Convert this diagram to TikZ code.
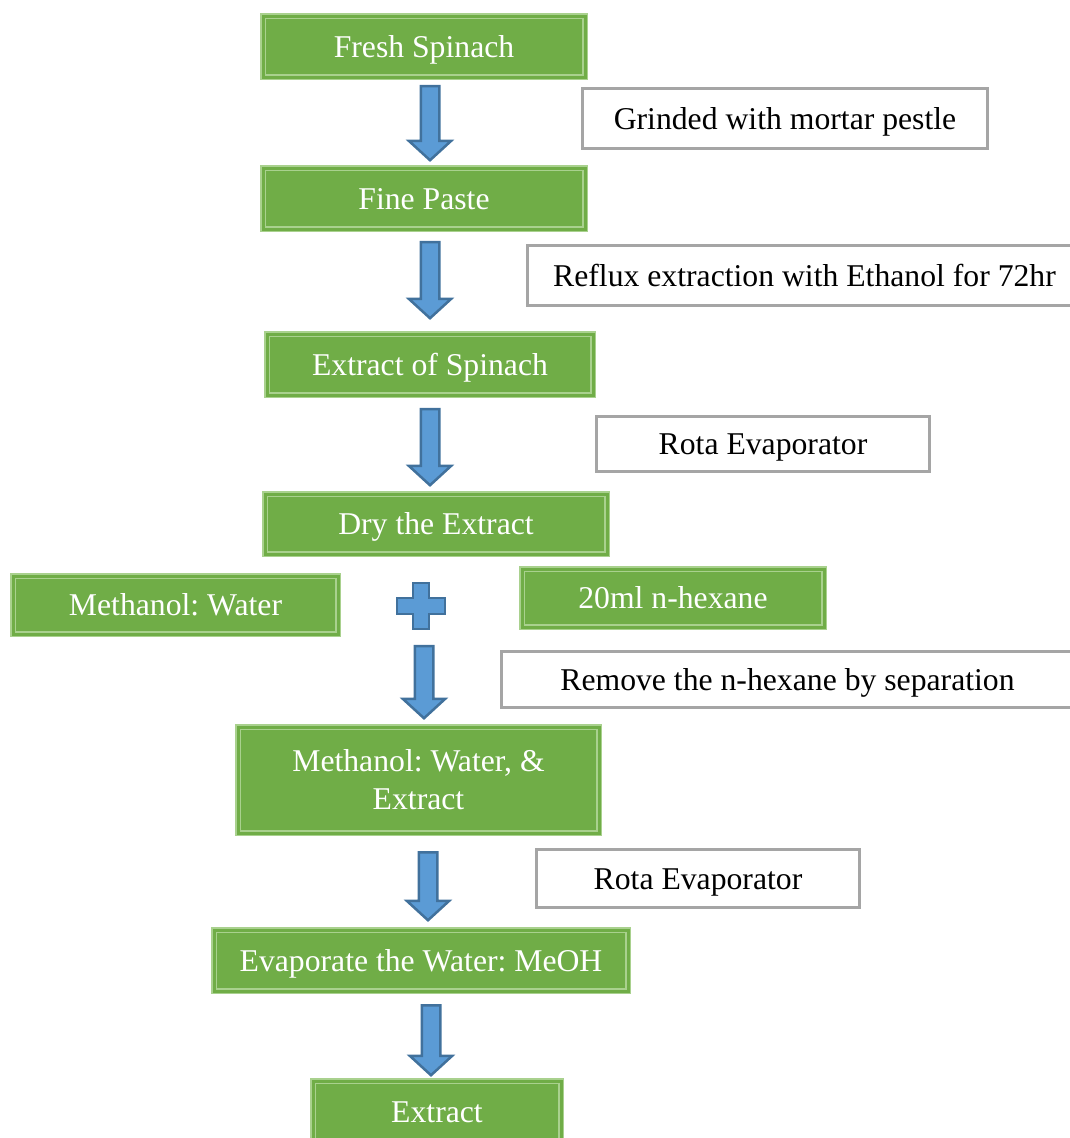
\documentclass[tikz,border=0pt]{standalone}
\usepackage{fontspec}
\setmainfont{Liberation Serif}
\usetikzlibrary{shapes.arrows, positioning}
\definecolor{leafgreen}{HTML}{70AD47}
\definecolor{palegreen}{HTML}{A9D18E}
\definecolor{flowblue}{HTML}{5B9BD5}
\definecolor{edgeblue}{HTML}{41719C}
\definecolor{framegray}{HTML}{A5A5A5}
\frenchspacing

\begin{document}
\begin{tikzpicture}[x=1pt, y=-1pt,
		stage/.style={draw=palegreen, line width=1.5pt, double=leafgreen, double distance=3pt,
			fill=leafgreen, text=white, inner sep=0pt, align=center,
			text height=22pt, text depth=1pt, font=\fontsize{31.7}{38}\selectfont},
		note/.style={draw=framegray, line width=3pt, fill=white, inner sep=0pt,
			text height=22pt, text depth=1pt, font=\fontsize{31.7}{38}\selectfont},
		flow/.style={single arrow, shape border rotate=270, draw=edgeblue, line width=2.5pt,
			fill=flowblue, inner sep=8pt, minimum width=41pt,
			single arrow head extend=12pt, single arrow tip angle=95}]
		\useasboundingbox (0,0) rectangle (1070,1138);
		
		% main line
		\node[stage, minimum width=322pt, minimum height=61pt] (fresh) at (424,46.5) {Fresh Spinach};
		\node[stage, minimum width=322pt, minimum height=61pt] (paste) at (424,198.5) {Fine Paste};
		\node[stage, minimum width=326pt, minimum height=61pt] (spin) at (430,364.5) {Extract of Spinach};
		\node[stage, minimum width=342pt, minimum height=60pt] (dry) at (436,524) {Dry the Extract};
		\node[stage, minimum width=325pt, minimum height=58pt] (mw) at (175.5,605) {Methanol: Water};
		\node[stage, minimum width=302pt, minimum height=58pt] (hex) at (673,598) {20ml n-hexane};
		\node[stage, text height={}, text depth={}, minimum width=361pt, minimum height=106pt] (mwe) at (418.5,780) {Methanol: Water, \&\\Extract};
		\node[stage, minimum width=414pt, minimum height=61pt] (evap) at (421,960.5) {Evaporate the Water: MeOH};
		\node[stage, minimum width=248pt, minimum height=61pt] (ext) at (437,1111.5) {Extract};
		
		% steps
		\node[note, minimum width=405pt, minimum height=60pt] (grind) at (785,118.5) {Grinded with mortar pestle};
		\node[note, minimum width=554pt, minimum height=60pt] (reflux) at (804.5,275.5) {Reflux extraction with Ethanol for 72hr};
		\node[note, minimum width=333pt, minimum height=55pt] (rota1) at (763,444) {Rota Evaporator};
		\node[note, minimum width=572pt, minimum height=56pt] (sep) at (787.5,679.5) {Remove the n-hexane by separation};
		\node[note, minimum width=323pt, minimum height=58pt] (rota2) at (698,878.5) {Rota Evaporator};
		
		% arrows
		\node[flow, minimum height=74pt] (a1) at (430,119) {};
		\node[flow, minimum height=76pt] (a2) at (430,276) {};
		\node[flow, minimum height=76pt] (a3) at (430,443) {};
		\node[flow, minimum height=72pt] (a4) at (424,678) {};
		\node[flow, minimum height=68pt] (a5) at (428,882) {};
		\node[flow, minimum height=70pt] (a6) at (431,1036) {};
		
		% plus
		\draw[draw=edgeblue, line width=2.5pt, fill=flowblue, line join=miter]
			(413,583) -- ++(16,0) -- ++(0,15) -- ++(16,0) -- ++(0,16) -- ++(-16,0)
			-- ++(0,15) -- ++(-16,0) -- ++(0,-15) -- ++(-16,0) -- ++(0,-16) -- ++(16,0) -- cycle;
	\end{tikzpicture}
\end{document}
